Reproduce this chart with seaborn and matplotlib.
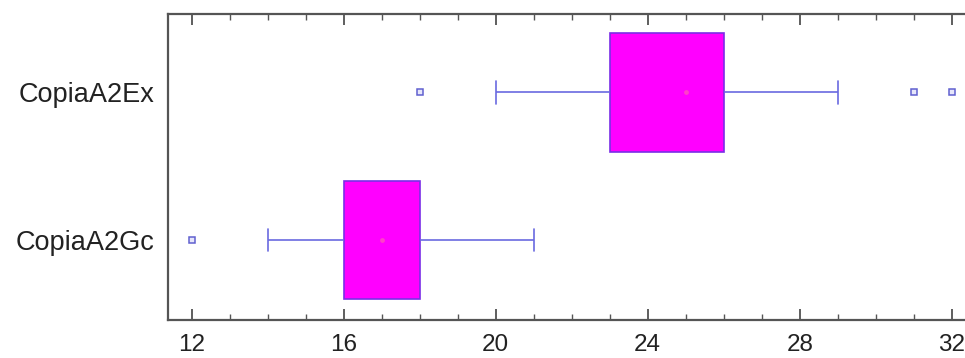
import numpy as np
import pandas as pd
import matplotlib
matplotlib.use("Agg")
import matplotlib.pyplot as plt
from matplotlib.ticker import MultipleLocator
import seaborn as sns

# Observations per element
copia_ex = [18, 20, 22, 23, 23, 24, 25, 25, 25, 26, 26, 26, 29, 31, 32]
copia_gc = [12, 14, 15, 16, 16, 17, 17, 17, 18, 18, 19, 20, 21]
categories = ["CopiaA2Ex", "CopiaA2Gc"]
x_ticks = [12, 16, 20, 24, 28, 32]

df = pd.DataFrame({
    "value": copia_ex + copia_gc,
    "group": [categories[0]] * len(copia_ex) + [categories[1]] * len(copia_gc),
})

sns.set_style("white")
plt.rcParams["font.family"] = ["Liberation Sans", "DejaVu Sans"]

fig = plt.figure(figsize=(9.65, 3.58), dpi=100)
# axes run a little past the right edge of the canvas
ax = fig.add_axes([168 / 965, 38 / 358, 829.3 / 965, 306 / 358])

box_fill = "#ff00ff"
box_edge = "#7a2ee6"
line_col = "#6a6ae0"

sns.boxplot(
    data=df, x="value", y="group", order=categories, orient="h",
    ax=ax, width=0.8, whis=1.5,
    color=box_fill,
    capwidths=0.15,
    boxprops=dict(facecolor=box_fill, edgecolor=box_edge, linewidth=1.2),
    whiskerprops=dict(color=line_col, linewidth=1.2),
    capprops=dict(color=line_col, linewidth=1.2),
    medianprops=dict(color=box_fill, linewidth=0),
    flierprops=dict(marker="s", markersize=5, markerfacecolor="#e6e6fa",
                    markeredgecolor="#6060d0", markeredgewidth=1.1),
)

# faint median dot inside each box
meds = [np.median(copia_ex), np.median(copia_gc)]
ax.scatter(meds, [0, 1], s=12, color="#ff40c8", zorder=5, linewidths=0)

ax.set_xlim(11.376, 33.2)
ax.set_ylim(1.542, -0.532)
ax.set_xlabel("")
ax.set_ylabel("")

ax.xaxis.set_major_locator(MultipleLocator(4))
ax.xaxis.set_minor_locator(MultipleLocator(1))
ax.set_xticks(x_ticks)
ax.tick_params(axis="x", which="major", direction="in", length=8, width=1.1,
               top=True, bottom=True, color="#333333", labelsize=17.5,
               pad=10, labelcolor="#222222")
ax.tick_params(axis="x", which="minor", direction="in", length=4, width=1.0,
               top=True, bottom=True, color="#555555")
ax.tick_params(axis="y", length=0, labelsize=19.5, pad=10, labelcolor="#222222")

for side in ["left", "bottom", "top"]:
    ax.spines[side].set_color("#555555")
    ax.spines[side].set_linewidth(1.6)
ax.spines["right"].set_visible(False)

fig.savefig("out.png", dpi=100)
